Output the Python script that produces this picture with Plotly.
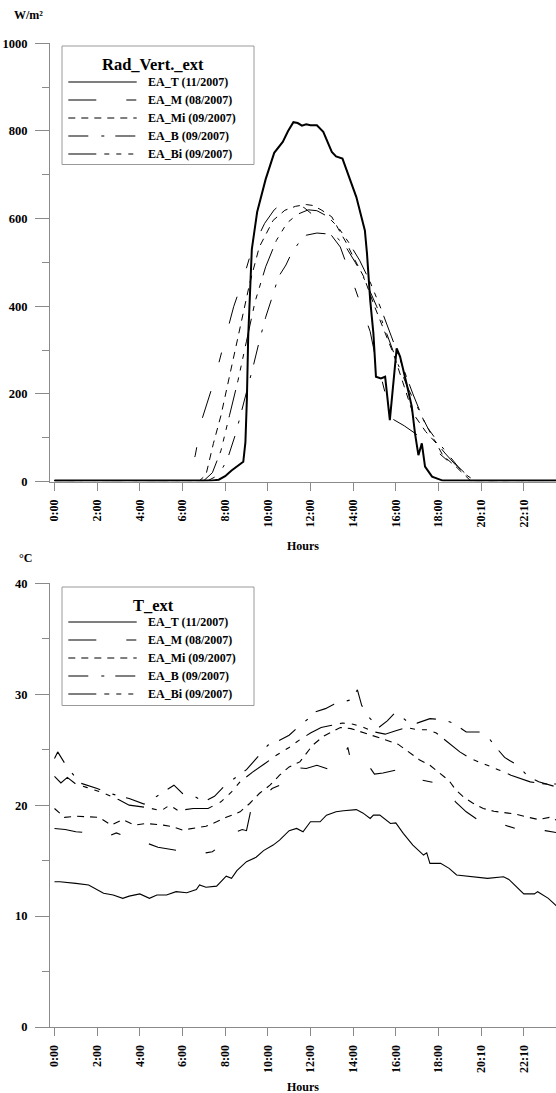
import plotly.graph_objects as go

W, H = 556, 1093
FONT = "Liberation Serif"

# ---------------- data: top chart (W/m2) ----------------
rad_T_h = [0, 7.3, 7.7, 8.0, 8.3, 8.6, 8.85, 8.95, 9.02, 9.08, 9.15, 9.25, 9.5, 9.9, 10.3, 10.7, 10.95, 11.2,
           11.4, 11.6, 11.8, 12.0, 12.3, 12.6, 13.0, 13.2, 13.5, 14.15, 14.55, 14.65, 14.8, 14.95, 15.07, 15.3,
           15.5, 15.72, 16.04, 16.2, 16.5, 16.75, 16.9, 17.06, 17.22, 17.37, 17.7, 18.2, 18.5, 23.6]
rad_T_v = [2, 2, 4, 12, 25, 35, 45, 90, 190, 330, 420, 530, 615, 690, 750, 775, 800, 820,
           818, 812, 815, 813, 813, 798, 752, 742, 737, 649, 573, 520, 414, 338, 239, 235,
           239, 140, 304, 285, 224, 171, 110, 60, 87, 34, 11, 2, 2, 2]

rad_M_h = [0, 5.9, 6.3, 6.6, 6.9, 7.35, 7.7, 8.05, 8.4, 8.85, 9.25, 9.85, 10.3, 10.75, 11.2, 11.7, 12.2,
           12.7, 13.1, 13.4, 13.9, 14.4, 14.8, 15.1, 15.35, 15.8, 16.4, 16.9, 17.4, 17.9, 18.5, 19.0, 19.5, 23.6]
rad_M_v = [2, 2, 10, 60, 140, 209, 270, 338, 399, 463, 528, 589, 620, 638, 636, 625, 605,
           580, 555, 535, 467, 399, 342, 270, 231, 144, 127, 110, 92, 70, 45, 22, 2, 2]

rad_Mi_h = [0, 6.8, 7.1, 7.45, 7.8, 8.1, 8.7, 9.15, 9.6, 10.25, 10.8, 11.3, 11.8, 12.1, 12.5, 13.0, 13.3,
            13.7, 14.0, 14.5, 15.0, 15.4, 15.9, 16.4, 16.8, 17.4, 17.9, 18.2, 18.9, 19.5, 23.6]
rad_Mi_v = [2, 2, 15, 87, 150, 216, 353, 452, 535, 596, 619, 628, 632, 630, 620, 604, 577,
            543, 513, 467, 400, 353, 290, 216, 156, 114, 87, 60, 30, 2, 2]

rad_B_h = [0, 7.2, 7.7, 8.1, 8.5, 9.0, 9.3, 9.6, 9.9, 10.2, 10.5, 10.85, 11.1, 11.5, 11.8, 12.3, 12.8, 13.2,
           13.6, 14.1, 14.6, 15.1, 15.6, 16.1, 16.6, 17.1, 17.5, 17.9, 18.3, 18.9, 19.6, 23.6]
rad_B_v = [2, 2, 15, 50, 110, 200, 260, 320, 375, 420, 467, 494, 520, 548, 562, 567, 565, 558,
           540, 500, 455, 400, 335, 268, 210, 160, 122, 95, 70, 35, 2, 2]

rad_Bi_h = [0, 7.0, 7.4, 7.8, 8.2, 8.6, 9.0, 9.4, 9.9, 10.4, 10.9, 11.4, 11.9, 12.3, 12.8, 13.3, 13.8, 14.3,
            14.8, 15.3, 15.8, 16.3, 16.8, 17.3, 17.8, 18.3, 18.8, 19.3, 19.7, 23.6]
rad_Bi_v = [2, 2, 20, 70, 150, 230, 320, 410, 490, 550, 590, 610, 620, 618, 605, 580, 545, 505,
            455, 395, 330, 265, 200, 140, 95, 65, 38, 15, 2, 2]

# ---------------- data: bottom chart (degC) ----------------
t_T_h = [0, 0.25, 1.0, 1.6, 2.3, 2.75, 3.2, 3.5, 4.0, 4.45, 4.8, 5.25, 5.7, 6.2, 6.65, 6.8, 7.1, 7.6, 8.05,
         8.3, 8.55, 9.0, 9.45, 9.8, 10.25, 10.55, 11.0, 11.35, 11.65, 12.0, 12.45, 12.75, 13.2, 13.55, 14.15,
         14.45, 14.8, 14.95, 15.25, 15.75, 16.0, 16.35, 16.8, 17.3, 17.45, 17.6, 18.1, 18.5, 18.85, 19.65,
         20.3, 21.05, 21.3, 22.0, 22.5, 22.65, 23.15, 23.6]
t_T_v = [13.1, 13.1, 12.95, 12.8, 12.05, 11.9, 11.6, 11.8, 12.0, 11.6, 11.9, 11.9, 12.2, 12.1, 12.4, 12.8,
         12.6, 12.7, 13.6, 13.4, 14.1, 14.9, 15.3, 15.9, 16.4, 16.85, 17.7, 17.9, 17.6, 18.5, 18.5, 19.1,
         19.4, 19.5, 19.6, 19.3, 18.8, 19.1, 19.1, 18.35, 18.4, 17.45, 16.4, 15.5, 15.7, 14.75, 14.75, 14.3,
         13.7, 13.55, 13.4, 13.55, 13.3, 12.0, 12.0, 12.2, 11.6, 10.8]

t_M_h = [0, 0.5, 1.0, 1.6, 2.4, 2.9, 3.6, 4.3, 4.85, 5.5, 6.2, 6.8, 7.4, 7.9, 8.3, 8.8, 9.0, 9.2, 9.6, 10.2,
         10.8, 11.3, 11.8, 12.3, 12.9, 13.4, 13.75, 13.9, 14.6, 15.0, 15.4, 16.1, 16.6, 17.1, 17.9, 18.4,
         18.8, 19.3, 19.9, 20.5, 21.1, 21.6, 22.3, 23.0, 23.6]
t_M_v = [17.9, 17.8, 17.6, 17.5, 17.1, 17.5, 17.0, 16.6, 16.2, 16.0, 15.8, 15.6, 15.8, 16.5, 17.4, 17.8,
         17.7, 19.5, 20.3, 21.5, 22.0, 23.4, 23.3, 23.6, 23.2, 23.8, 25.2, 23.9, 23.9, 22.8, 22.9, 23.2,
         22.9, 22.3, 22.0, 21.3, 20.3, 19.4, 18.6, 18.4, 18.2, 17.9, 17.8, 17.7, 17.5]

t_Mi_h = [0, 0.47, 1.0, 1.56, 2.1, 2.65, 3.2, 3.75, 4.3, 5.1, 5.55, 6.0, 6.55, 7.1, 7.6, 8.05, 8.7, 9.15,
          9.6, 10.1, 10.55, 11.0, 11.5, 12.1, 12.6, 13.0, 13.4, 13.9, 14.4, 14.9, 15.5, 16.1, 16.6, 17.1,
          17.6, 18.1, 18.5, 18.8, 19.2, 19.6, 20.1, 20.6, 21.1, 21.6, 22.1, 22.7, 23.2, 23.6]
t_Mi_v = [19.7, 18.9, 19.0, 18.95, 18.9, 18.2, 18.7, 18.2, 18.35, 18.2, 18.05, 17.75, 17.9, 18.1, 18.5,
          18.9, 19.4, 20.15, 21.05, 21.8, 22.7, 23.45, 23.9, 25.4, 26.2, 26.6, 27.0, 26.9, 26.6, 26.3,
          25.9, 25.5, 24.8, 24.1, 23.6, 22.8, 22.2, 21.4, 20.7, 20.2, 19.7, 19.45, 19.35, 19.2, 18.95,
          18.7, 18.9, 18.6]

t_B_h = [0, 0.15, 0.6, 1.2, 2.0, 2.7, 3.5, 4.2, 4.8, 5.6, 6.0, 6.6, 7.0, 7.5, 8.0, 8.6, 9.0, 9.6, 10.0,
         10.5, 11.0, 11.4, 11.9, 12.2, 12.7, 13.1, 13.5, 13.9, 14.2, 14.4, 14.7, 15.2, 15.6, 16.0, 16.5,
         17.0, 17.6, 18.2, 18.7, 19.3, 19.9, 20.3, 20.7, 21.1, 21.7, 22.2, 22.7, 23.2, 23.6]
t_B_v = [24.2, 24.8, 23.4, 22.0, 21.5, 21.0, 20.6, 20.1, 20.8, 21.8, 21.05, 20.75, 20.3, 20.8, 21.8,
         22.6, 23.2, 24.5, 25.4, 25.8, 26.3, 27.0, 27.8, 28.4, 28.7, 29.1, 29.3, 29.5, 30.4, 29.0, 28.0,
         27.0, 27.6, 28.4, 27.6, 27.4, 27.8, 27.7, 27.4, 26.6, 26.6, 26.2, 25.2, 24.3, 23.6, 22.6, 22.1,
         21.8, 21.6]

t_Bi_h = [0, 0.3, 0.6, 1.0, 1.5, 2.3, 3.0, 3.5, 4.3, 5.0, 5.4, 5.8, 6.5, 7.2, 7.8, 8.3, 8.7, 9.3, 9.9,
          10.4, 11.0, 11.5, 12.0, 12.5, 13.0, 13.5, 14.0, 14.5, 15.0, 15.5, 16.0, 16.5, 17.0, 17.5, 17.9,
          18.5, 19.0, 19.5, 20.3, 20.8, 21.4, 22.3, 23.0, 23.6]
t_Bi_v = [22.6, 22.0, 22.5, 21.9, 21.6, 21.1, 20.5, 20.0, 19.8, 19.5, 20.0, 19.5, 19.7, 19.7, 20.3, 21.2,
          22.1, 23.0, 23.8, 24.5, 25.2, 25.9, 26.5, 27.0, 27.2, 27.4, 27.3, 27.0, 26.6, 26.4, 26.7, 27.0,
          26.8, 26.8, 26.5, 25.6, 24.8, 24.2, 23.6, 23.2, 22.7, 22.1, 21.9, 21.9]

tick_hours = [0, 2, 4, 6, 8, 10, 12, 14, 16, 18, 20, 22]
tick_text = ["0:00", "2:00", "4:00", "6:00", "8:00", "10:00", "12:00", "14:00", "16:00", "18:00", "20:10", "22:10"]

series_names = ["EA_T (11/2007)", "EA_M (08/2007)", "EA_Mi (09/2007)", "EA_B (09/2007)", "EA_Bi (09/2007)"]

# ---------------- styles ----------------
DASH = {
    "T": "solid",
    "M": "28px,30px,10px,30px",
    "Mi": "7px,6px",
    "B": "20px,13px,3px,11px",
    "Bi": "28px,8px,5px,7px,5px,7px,5px,8px",
}
keys = ["T", "M", "Mi", "B", "Bi"]

fig = go.Figure()

top_data = {"T": (rad_T_h, rad_T_v), "M": (rad_M_h, rad_M_v), "Mi": (rad_Mi_h, rad_Mi_v),
            "B": (rad_B_h, rad_B_v), "Bi": (rad_Bi_h, rad_Bi_v)}
bot_data = {"T": (t_T_h, t_T_v), "M": (t_M_h, t_M_v), "Mi": (t_Mi_h, t_Mi_v),
            "B": (t_B_h, t_B_v), "Bi": (t_Bi_h, t_Bi_v)}

for k, nm in zip(keys, series_names):
    x, y = top_data[k]
    fig.add_trace(go.Scatter(x=x, y=y, mode="lines", name=nm, showlegend=False,
                             line=dict(color="black", width=2 if k == "T" else 1, dash=DASH[k]),
                             xaxis="x", yaxis="y"))
for k, nm in zip(keys, series_names):
    x, y = bot_data[k]
    fig.add_trace(go.Scatter(x=x, y=y, mode="lines", name=nm, showlegend=False,
                             line=dict(color="black", width=1.1, dash=DASH[k]),
                             xaxis="x2", yaxis="y2"))

def px(xp):
    return xp / W

def py(yp):
    return 1 - yp / H

X_LO, X_HI = -0.211, 23.51
AX_GRAY = "#8a8a8a"
tickfont = dict(family=FONT, size=12.5, color="black", weight="bold")
xtickfont = dict(family=FONT, size=12, color="black", weight="bold")

def xaxis_cfg(anchor):
    return dict(domain=[px(50), 1], anchor=anchor, range=[X_LO, X_HI], tickmode="array",
                tickvals=tick_hours, ticktext=tick_text, tickangle=-90, ticks="outside",
                ticklen=8, tickcolor=AX_GRAY, showline=True, linecolor=AX_GRAY, linewidth=1.2,
                showgrid=False, zeroline=False, tickfont=xtickfont, automargin=False,
                ticklabelstandoff=4)

fig.update_layout(
    width=W, height=H, margin=dict(l=0, r=0, t=0, b=0),
    paper_bgcolor="white", plot_bgcolor="white", showlegend=False,
    xaxis=xaxis_cfg("y"),
    xaxis2=xaxis_cfg("y2"),
    yaxis=dict(domain=[py(481.5), py(43.3)], anchor="x", range=[0, 1000], dtick=200, tick0=0,
               ticks="outside", ticklen=14, tickcolor=AX_GRAY, showline=True, linecolor=AX_GRAY,
               linewidth=1.2, showgrid=False, zeroline=False, tickfont=tickfont, automargin=False,
               ticklabelstandoff=5,
               minor=dict(dtick=100, ticks="outside", ticklen=7, tickcolor=AX_GRAY, showgrid=False)),
    yaxis2=dict(domain=[py(1027), py(583.3)], anchor="x2", range=[0, 40], dtick=10, tick0=0,
                ticks="outside", ticklen=14, tickcolor=AX_GRAY, showline=True, linecolor=AX_GRAY,
                linewidth=1.2, showgrid=False, zeroline=False, tickfont=tickfont, automargin=False,
                ticklabelstandoff=5,
                minor=dict(dtick=5, ticks="outside", ticklen=7, tickcolor=AX_GRAY, showgrid=False)),
)

shapes = []
annots = []

def legend(box_top, title, title_y, entry_ys):
    shapes.append(dict(type="rect", xref="paper", yref="paper", x0=px(62), x1=px(254),
                       y0=py(box_top + 118.5), y1=py(box_top), line=dict(color="#9a9a9a", width=1),
                       fillcolor="white", layer="above"))
    annots.append(dict(xref="paper", yref="paper", x=px(153), y=py(title_y), text=title,
                       showarrow=False, xanchor="center", yanchor="middle",
                       font=dict(family=FONT, size=16.5, color="black", weight="bold")))
    for k, nm, ey in zip(keys, series_names, entry_ys):
        shapes.append(dict(type="line", xref="paper", yref="paper", x0=px(68.3), x1=px(136.7),
                           y0=py(ey), y1=py(ey), line=dict(color="black", width=1.2, dash=DASH[k]),
                           layer="above"))
        annots.append(dict(xref="paper", yref="paper", x=px(145.5), y=py(ey), text=nm,
                           showarrow=False, xanchor="left", yanchor="middle",
                           font=dict(family=FONT, size=12, color="black", weight="bold")))

legend(46, "Rad_Vert._ext", 65, [82, 100, 118, 136, 154])
legend(587, "T_ext", 605, [622, 640, 658, 676, 694])

lab = dict(family=FONT, size=12, color="black", weight="bold")
annots += [
    dict(xref="paper", yref="paper", x=px(28), y=py(15), text="W/m²", showarrow=False,
         xanchor="center", yanchor="middle", font=lab),
    dict(xref="paper", yref="paper", x=px(25), y=py(558), text="°C", showarrow=False,
         xanchor="center", yanchor="middle", font=lab),
    dict(xref="paper", yref="paper", x=px(303), y=py(546), text="Hours", showarrow=False,
         xanchor="center", yanchor="middle", font=lab),
    dict(xref="paper", yref="paper", x=px(303), y=py(1087), text="Hours", showarrow=False,
         xanchor="center", yanchor="middle", font=lab),
]

fig.update_layout(shapes=shapes, annotations=annots)
fig.write_html("out.html")
